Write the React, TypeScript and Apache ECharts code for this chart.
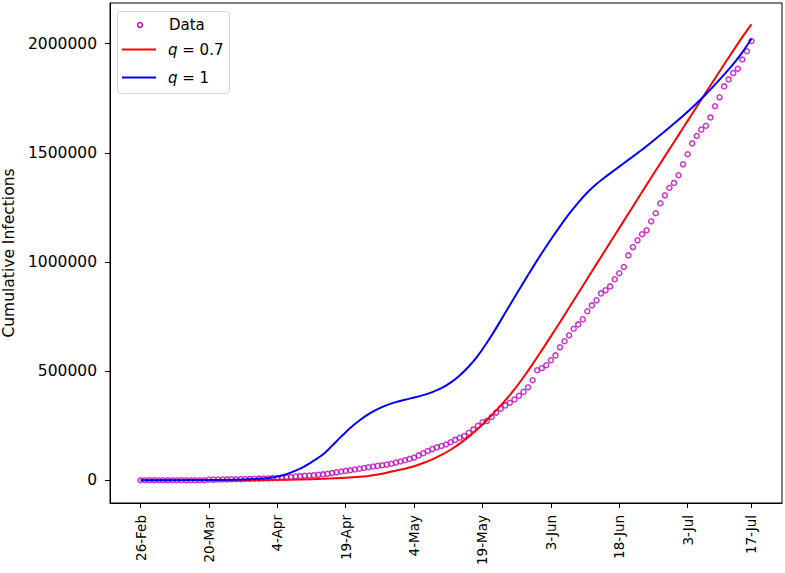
import React, { useEffect, useRef } from "react";
import * as echarts from "echarts";

// x positions are day indices; ticks labelled with dates
const tickIdx = [0, 15, 30, 45, 60, 75, 90, 105, 120, 134];
const tickLabels = ["26-Feb", "20-Mar", "4-Apr", "19-Apr", "4-May", "19-May", "3-Jun", "18-Jun", "3-Jul", "17-Jul"];
const yTicks = [0, 500000, 1000000, 1500000, 2000000];

// observed cumulative infections (one per day index 0..134)
const dataVals = [
  0, 0, 0, 0, 0, 0, 0, 0, 0, 100, 100, 200, 200, 300, 400,
  3000, 3200, 3500, 3800, 4100, 4500, 4900, 5300, 5800, 6300, 6900, 7500, 8200, 9000, 9800,
  10500, 12000, 13500, 15000, 17000, 19000, 20500, 22000, 23500, 25000, 27000, 30000, 33000, 36500, 40000,
  43000, 46000, 49500, 53000, 56500, 60000, 63000, 66000, 69000, 72000, 76000, 81000, 86000, 92000, 98000,
  104000, 114000, 124000, 134000, 143000, 151000, 157000, 164000, 174000, 185000, 195000, 203000, 218000, 233000, 250000,
  266000, 272000, 290000, 310000, 328000, 343000, 355000, 370000, 387000, 405000, 426000, 458000, 504000, 513000, 527000,
  550000, 572000, 609000, 637000, 664000, 694000, 714000, 737000, 774000, 801000, 824000, 856000, 870000, 888000, 921000,
  948000, 977000, 1030000, 1068000, 1099000, 1127000, 1145000, 1186000, 1223000, 1269000, 1305000, 1340000, 1362000, 1397000, 1447000,
  1493000, 1543000, 1577000, 1606000, 1624000, 1662000, 1713000, 1754000, 1804000, 1836000, 1865000, 1885000, 1927000, 1965000, 2012000,
];

// model q = 0.7 (thousands), read at these day indices
const q07Idx = [0, 20, 30, 35, 40, 45, 50, 52, 54, 56, 58, 60, 62, 64, 66, 68, 70, 72, 74, 76, 78, 80, 82, 84, 86, 88, 90, 92, 94, 96, 98, 100, 102, 104, 106, 108, 110, 112, 114, 116, 118, 120, 122, 124, 126, 128, 130, 132, 134];
const q07K = [0, 0.5, 2, 4, 7, 12, 20, 27, 35, 44, 53, 64, 79, 96, 116, 140, 168, 200, 236, 276, 320, 366, 416, 472, 532, 595, 659, 724, 790, 857, 923, 990, 1056, 1122, 1188, 1254, 1320, 1386, 1451, 1516, 1581, 1646, 1711, 1776, 1840, 1904, 1968, 2030, 2088];

// model q = 1 (thousands), read at these day indices
const q1Idx = [0, 10, 20, 25, 28, 30, 32, 34, 36, 38, 40, 42, 44, 46, 48, 50, 52, 54, 56, 58, 60, 62, 64, 66, 68, 70, 72, 74, 76, 78, 80, 82, 84, 86, 88, 90, 92, 94, 96, 98, 100, 102, 104, 106, 108, 110, 112, 114, 116, 118, 120, 122, 124, 126, 128, 130, 132, 134];
const q1K = [0, 1, 3, 6, 10, 17, 28, 44, 64, 90, 118, 158, 200, 240, 274, 303, 326, 344, 358, 369, 379, 390, 404, 422, 447, 480, 521, 571, 631, 697, 767, 837, 906, 974, 1040, 1103, 1163, 1220, 1272, 1318, 1357, 1390, 1421, 1452, 1483, 1514, 1547, 1581, 1616, 1651, 1688, 1727, 1768, 1812, 1858, 1906, 1960, 2022];

const FONT = "DejaVu Sans";

export default function App() {
  const ref = useRef<HTMLDivElement>(null);
  useEffect(() => {
    if (!ref.current) return;
    const chart = echarts.init(ref.current, undefined, { renderer: "svg" });
    const richQ = { i: { fontStyle: "italic", fontFamily: FONT, fontSize: 15, fill: "#000" } };
    const option: any = {
      animation: false,
      backgroundColor: "#ffffff",
      grid: {
        left: 110, right: 3, top: 3, bottom: 70,
        outerBoundsMode: "none", containLabel: false,
        show: true, borderColor: "#000", borderWidth: 1, backgroundColor: "transparent",
      },
      xAxis: {
        type: "value",
        min: -6.7,
        max: 140.7,
        axisLine: { show: true, onZero: false, lineStyle: { color: "#000", width: 1 } },
        axisTick: { show: true, length: 5, lineStyle: { color: "#000" }, customValues: tickIdx },
        splitLine: { show: false },
        axisLabel: {
          customValues: tickIdx,
          rotate: 90,
          margin: 12,
          color: "#000",
          fontFamily: FONT,
          fontSize: 13.5,
          formatter: (v: number) => {
            const i = tickIdx.indexOf(Math.round(v));
            return i >= 0 ? tickLabels[i] : "";
          },
        },
      },
      yAxis: {
        type: "value",
        min: -104000,
        max: 2186000,
        name: "Cumulative Infections",
        nameLocation: "middle",
        nameRotate: 90,
        nameGap: 92,
        nameTextStyle: { color: "#000", fontFamily: FONT, fontSize: 15.5 },
        axisLine: { show: true, onZero: false, lineStyle: { color: "#000", width: 1 } },
        axisTick: { show: true, length: 5, lineStyle: { color: "#000" }, customValues: yTicks },
        splitLine: { show: false },
        axisLabel: {
          customValues: yTicks,
          margin: 13,
          color: "#000",
          fontFamily: FONT,
          fontSize: 15.5,
          formatter: (v: number) => String(v),
        },
      },
      series: [
        {
          name: "Data",
          type: "scatter",
          data: dataVals.map((v, i) => [i, v]),
          symbol: "circle",
          symbolSize: 5,
          itemStyle: { color: "rgba(255,255,255,0)", borderColor: "#bf00bf", borderWidth: 1.5 },
          z: 2,
        },
        {
          name: "q = 0.7",
          type: "line",
          data: q07Idx.map((x, i) => [x, q07K[i] * 1000]),
          smooth: 0.3,
          showSymbol: false,
          lineStyle: { color: "#ff0000", width: 2 },
          itemStyle: { color: "#ff0000" },
          z: 3,
        },
        {
          name: "q = 1",
          type: "line",
          data: q1Idx.map((x, i) => [x, q1K[i] * 1000]),
          smooth: 0.3,
          showSymbol: false,
          lineStyle: { color: "#0000ff", width: 2 },
          itemStyle: { color: "#0000ff" },
          z: 4,
        },
      ],
      graphic: [
        {
          type: "group",
          z: 100,
          children: [
            { type: "rect", shape: { x: 117.5, y: 11.5, width: 112, height: 82, r: 3 }, style: { fill: "rgba(255,255,255,0.85)", stroke: "#d4d4d4", lineWidth: 1 } },
            { type: "circle", shape: { cx: 140, cy: 25, r: 2.4 }, style: { fill: "none", stroke: "#bf00bf", lineWidth: 1.5 } },
            { type: "line", shape: { x1: 122, y1: 49.5, x2: 156, y2: 49.5 }, style: { stroke: "#ff0000", lineWidth: 2 } },
            { type: "line", shape: { x1: 122, y1: 77.5, x2: 156, y2: 77.5 }, style: { stroke: "#0000ff", lineWidth: 2 } },
            { type: "text", x: 169, y: 25, style: { text: "Data", fill: "#000", fontFamily: FONT, fontSize: 15, verticalAlign: "middle" } },
            { type: "text", x: 168, y: 50, style: { text: "{i|q} = 0.7", fill: "#000", fontFamily: FONT, fontSize: 15, verticalAlign: "middle", rich: richQ } },
            { type: "text", x: 168, y: 78, style: { text: "{i|q} = 1", fill: "#000", fontFamily: FONT, fontSize: 15, verticalAlign: "middle", rich: richQ } },
          ],
        },
      ],
    };
    chart.setOption(option);
    return () => chart.dispose();
  }, []);
  return <div ref={ref} style={{ position: "absolute", left: 0, top: 0, width: 785, height: 573 }} />;
}
